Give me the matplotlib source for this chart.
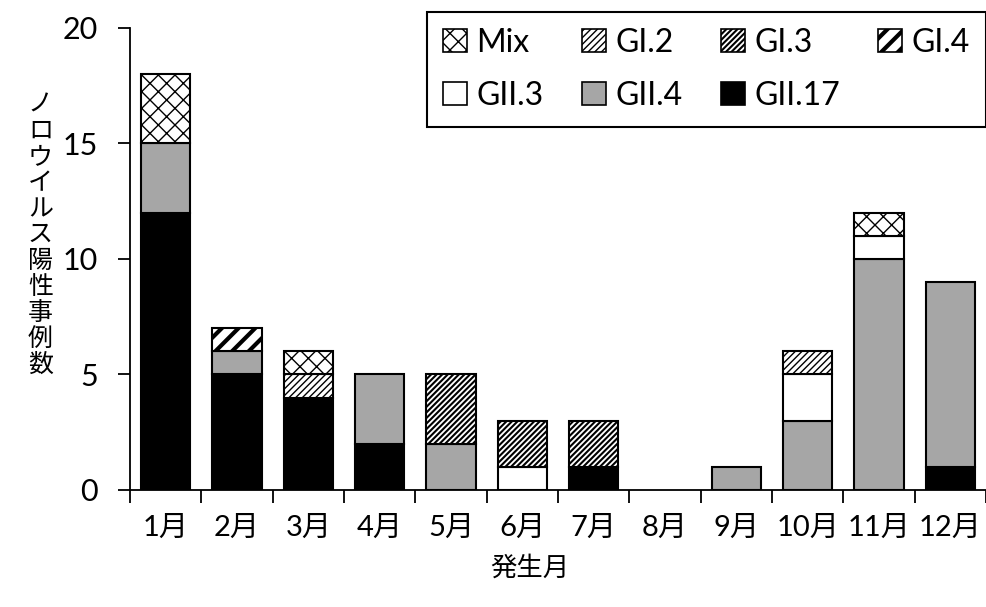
import matplotlib
matplotlib.use('Agg')
import matplotlib.pyplot as plt
from matplotlib.patches import Patch
import numpy as np

# 月別・遺伝子型別のノロウイルス陽性事例数
months = ['1月', '2月', '3月', '4月', '5月', '6月', '7月', '8月', '9月', '10月', '11月', '12月']
gii17 = [12, 5, 4, 2, 0, 0, 1, 0, 0, 0, 0, 1]
gii4 = [3, 1, 0, 3, 2, 0, 0, 0, 1, 3, 10, 8]
gii3 = [0, 0, 0, 0, 0, 1, 0, 0, 0, 2, 1, 0]
gi4 = [0, 1, 0, 0, 0, 0, 0, 0, 0, 0, 0, 0]
gi3 = [0, 0, 0, 0, 3, 2, 2, 0, 0, 0, 0, 0]
gi2 = [0, 0, 1, 0, 0, 0, 0, 0, 0, 1, 0, 0]
mix = [3, 0, 1, 0, 0, 0, 0, 0, 0, 0, 1, 0]
yticks = [0, 5, 10, 15, 20]

latin = ['Lato', 'Noto Sans CJK JP']

fig = plt.figure(figsize=(9.87, 6.07), dpi=100, facecolor='w')
ax = fig.add_axes([0.1317, 0.1928, 0.8673, 0.7611])

x = np.arange(len(months))
# name, values, style, hatch linewidth
series = [
    ('GII.17', gii17, dict(facecolor='black'), 1.0),
    ('GII.4', gii4, dict(facecolor='#a6a6a6'), 1.0),
    ('GII.3', gii3, dict(facecolor='white'), 1.0),
    ('GI.4', gi4, dict(facecolor='white', hatch='//'), 3.0),
    ('GI.3', gi3, dict(facecolor='white', hatch='//////'), 1.5),
    ('GI.2', gi2, dict(facecolor='white', hatch='/////'), 1.0),
    ('Mix', mix, dict(facecolor='white', hatch='xx'), 1.0),
]
hlw_of = {name: hlw for name, _, _, hlw in series}

bottom = np.zeros(len(months))
handles = {}
for name, vals, style, hlw in series:
    vals = np.array(vals, dtype=float)
    with plt.rc_context({'hatch.linewidth': hlw}):
        bars = ax.bar(x, vals, width=0.69, bottom=bottom, edgecolor='black',
                      linewidth=1.5, **style)
        handles[name] = Patch(edgecolor='black', linewidth=1.2, **style)
    for b, v in zip(bars, vals):
        if hasattr(b, 'set_hatch_linewidth'):
            b.set_hatch_linewidth(hlw)
        if v == 0:
            b.set_visible(False)
    bottom += vals

ax.set_xlim(-0.5, len(months) - 0.5)
ax.set_ylim(0, 20)
ax.set_yticks(yticks)
ax.set_yticklabels([str(t) for t in yticks], family=latin, fontsize=22)
ax.set_xticks(x)
ax.set_xticklabels(months, family=latin, fontsize=21)
ax.set_xticks(np.arange(-0.5, len(months)), minor=True)
ax.tick_params(axis='x', which='major', length=0, pad=18)
ax.tick_params(axis='x', which='minor', length=9, width=1.3, direction='out')
ax.tick_params(axis='y', length=9, width=1.3, direction='out', pad=14)

for s in ['top', 'right']:
    ax.spines[s].set_visible(False)
for s in ['left', 'bottom']:
    ax.spines[s].set_linewidth(1.3)

# 縦書きの軸ラベル
fig.text(0.041, 0.613, '\n'.join('ノロウイルス陽性事例数'), ha='center', va='center',
         fontsize=18, family='Noto Sans CJK JP', linespacing=1.0)
fig.text(0.537, 0.064, '発生月', ha='center', va='center',
         fontsize=19, family='Noto Sans CJK JP')

order = ['Mix', 'GII.3', 'GI.2', 'GII.4', 'GI.3', 'GII.17', 'GI.4']
with plt.rc_context({'hatch.linewidth': 1.0}):
    leg = fig.legend([handles[n] for n in order], order, loc='upper right',
                     bbox_to_anchor=(0.999, 0.981), ncol=4,
                     prop={'family': latin, 'size': 23},
                     frameon=True, fancybox=False, framealpha=1, edgecolor='black',
                     handlelength=0.75, handleheight=0.75, handletextpad=0.3,
                     columnspacing=1.2, borderpad=0.5, labelspacing=0.73,
                     borderaxespad=0)
leg.get_frame().set_linewidth(1.5)
for p, n in zip(leg.get_patches(), order):
    if hasattr(p, 'set_hatch_linewidth'):
        p.set_hatch_linewidth(hlw_of[n])

fig.savefig('out.png', dpi=100)
